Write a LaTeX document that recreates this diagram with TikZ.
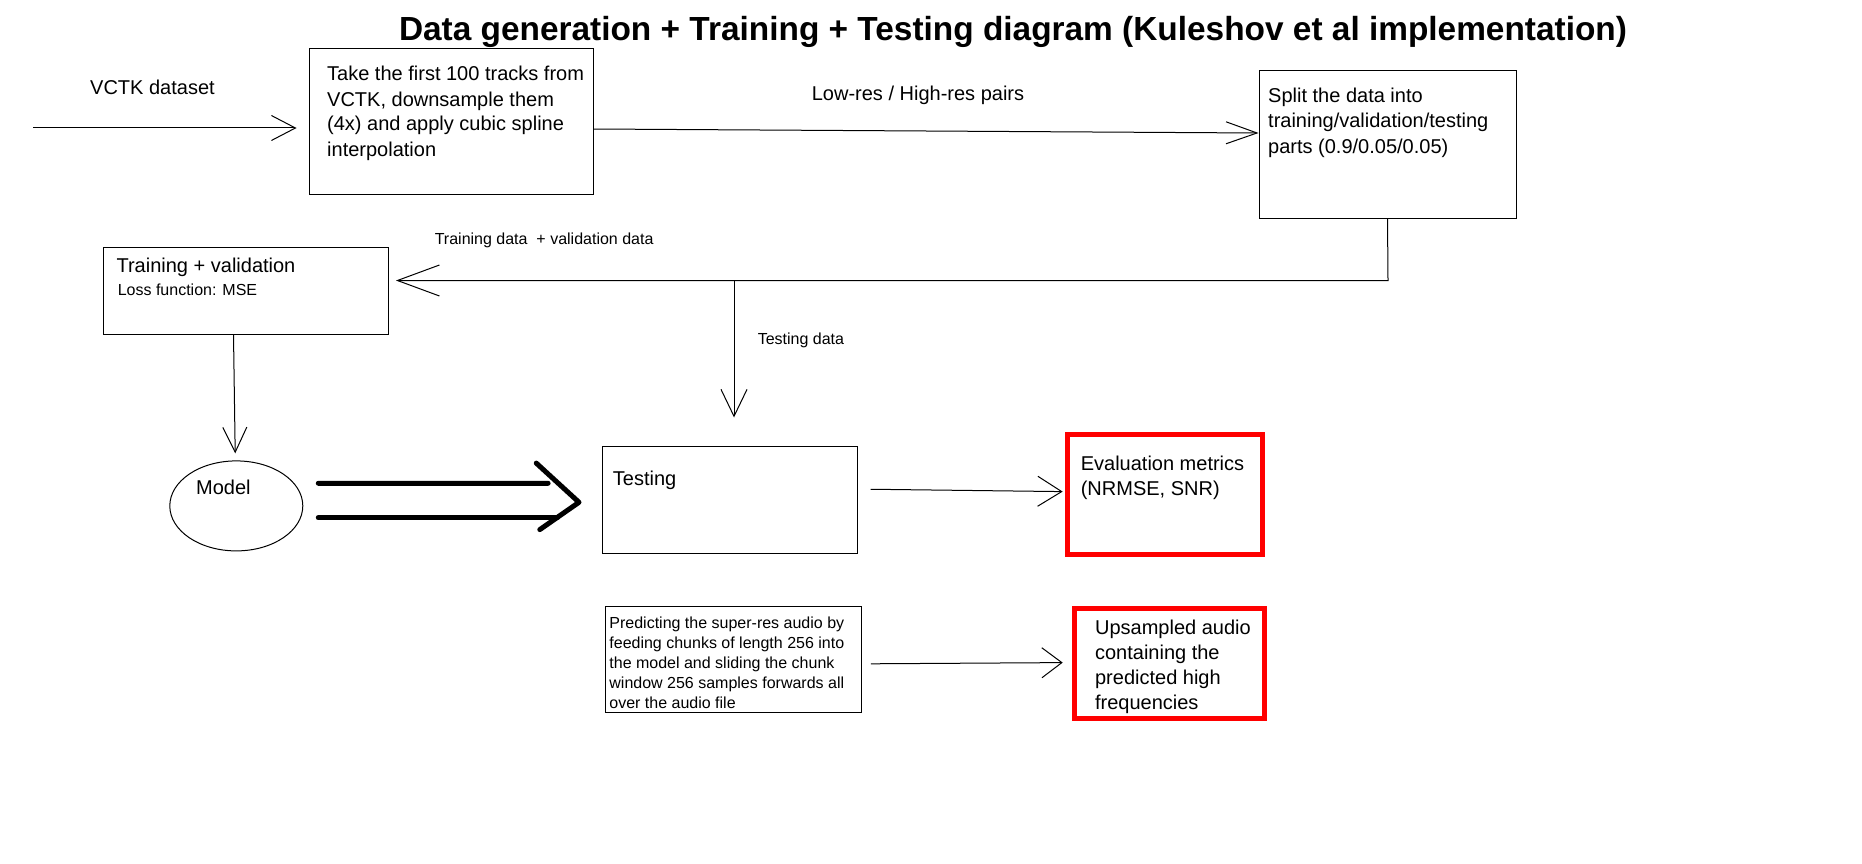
\documentclass[tikz,border=0pt]{standalone}
\usepackage{fontspec}
\setmainfont{Liberation Sans}
\usetikzlibrary{arrows.meta,shapes.geometric,calc}
\definecolor{myred}{RGB}{255,0,0}
\newcommand\hA{\rule{0pt}{16pt}}
\newcommand\hB{\rule{0pt}{13pt}}
\begin{document}
\begin{tikzpicture}[x=1pt,y=-1pt,
  box/.style={draw, line width=1pt, rectangle, inner sep=0pt},
  redbox/.style={draw=myred, line width=5pt, rectangle, inner sep=0pt},
  big/.style={font=\fontsize{20pt}{25pt}\selectfont, inner sep=0pt},
  small/.style={font=\fontsize{16pt}{20pt}\selectfont, inner sep=0pt},
  arr/.style 2 args={-{Straight Barb[length=#1pt,width=#2pt]}, line width=1pt},
  thick arrow/.style={line width=5pt, line cap=round, line join=round}
]
\useasboundingbox[fill=white] (0,0) rectangle (1862,864);

% title
\node[font=\fontsize{33.4pt}{40pt}\selectfont\bfseries, inner sep=0pt, anchor=base] (title) at (1013,41) {Data generation + Training + Testing diagram (Kuleshov et al implementation)};

% boxes
\node[box, minimum width=284pt, minimum height=145pt] (b1) at (451,121.5) {};
\node[box, minimum width=257pt, minimum height=147pt] (split) at (1387.5,144.5) {};
\node[box, minimum width=285pt, minimum height=87pt] (train) at (245.5,290.5) {};
\node[draw, line width=1pt, ellipse, minimum width=133pt, minimum height=90pt, inner sep=0pt] (model) at (236.3,505.9) {};
\node[box, minimum width=255pt, minimum height=107pt] (testbox) at (729.5,500) {};
\node[redbox, minimum width=194.7pt, minimum height=120pt] (eval) at (1165,494.6) {};
\node[box, minimum width=255.4pt, minimum height=105.7pt] (pred) at (733.3,659.6) {};
\node[redbox, minimum width=190pt, minimum height=110.4pt] (ups) at (1169.7,663.2) {};

% texts
\node[big, anchor=base west] (lvctk) at (90,95) {VCTK dataset};
\node[big, anchor=north west, align=left] (t1) at (327,64.8) {\hA Take the first 100 tracks from\\VCTK, downsample them\\(4x) and apply cubic spline\\interpolation};
\node[big, anchor=base] (lpairs) at (918,101) {Low-res / High-res pairs};
\node[font=\fontsize{20pt}{25.5pt}\selectfont, inner sep=0pt, anchor=north west, align=left] (tsplit) at (1268,86) {\hA Split the data into\\training/validation/testing\\parts (0.9/0.05/0.05)};
\node[small, anchor=base west] (ltrain) at (434.6,244.4) {Training data~ + validation data};
\node[big, anchor=base west] (ttrain) at (116.4,272) {Training + validation};
\node[small, anchor=base west] (tloss) at (117.6,295.5) {Loss function: MSE};
\node[small, anchor=base west] (ltest) at (757.6,344) {Testing data};
\node[big, anchor=base west] (tmodel) at (196,494) {Model};
\node[big, anchor=base west] (ttest) at (612.75,485.8) {Testing};
\node[big, anchor=north west, align=left] (teval) at (1080.6,454.3) {\hA Evaluation metrics\\(NRMSE, SNR)};
\node[small, anchor=north west, align=left] (tpred) at (609.2,615) {\hB Predicting the super-res audio by\\feeding chunks of length 256 into\\the model and sliding the chunk\\window 256 samples forwards all\\over the audio file};
\node[big, anchor=north west, align=left] (tups) at (1094.9,618.2) {\hA Upsampled audio\\containing the\\predicted high\\frequencies};

% connectors
\coordinate (in1) at (33,128);
\draw[arr={24}{25}, shorten >=12pt] (in1) -- (in1 -| b1.west);
\draw[arr={31}{22}] ($(b1.east)+(0,7.5)$) -- ($(split.west)+(0,-11.5)$);
\coordinate (turn) at (1388,280.5);
\draw[arr={42}{31}, shorten >=7.5pt] (split.south) -- (turn) -- (turn -| train.east);
\coordinate (tdsrc) at (734,280.5);
\draw[arr={27}{26}, shorten >=28.5pt] (tdsrc) -- (tdsrc |- testbox.north);
\draw[arr={25}{24}, shorten >=7pt] ($(train.south)+(-12,0)$) -- ($(model.north)+(-1,0)$);
\draw[arr={24}{30}] ($(testbox.east)+(13,-10.75)$) -- ($(eval.west)+(-2.5,-3)$);
\draw[arr={20}{30}] ($(pred.east)+(9.4,4.2)$) -- ($(ups.west)+(-9.5,-0.6)$);

% thick double arrow Model -> Testing
\draw[thick arrow] ($(model.east)+(15,-22.6)$) -- ($(testbox.west)+(-53.4,-16.7)$);
\draw[thick arrow] ($(model.east)+(15,11.85)$) -- ($(testbox.west)+(-44,17.75)$);
\draw[thick arrow] ($(testbox.west)+(-65.25,-36.9)$) -- ($(testbox.west)+(-22.5,2.3)$) -- ($(testbox.west)+(-61.7,29.6)$);
\end{tikzpicture}
\end{document}
